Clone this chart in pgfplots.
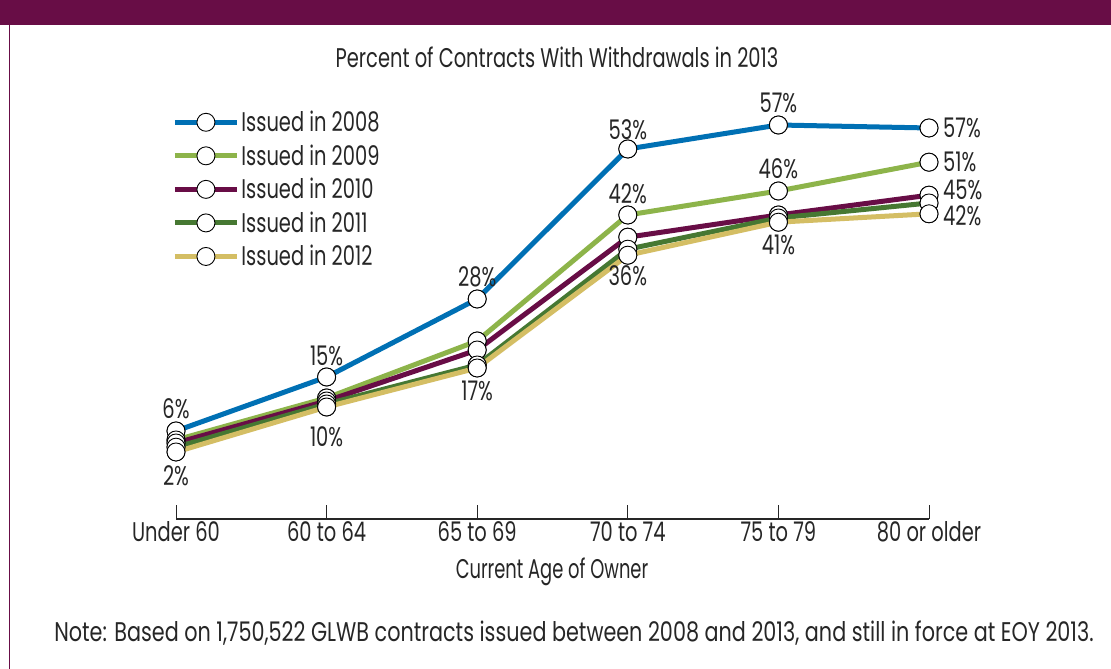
\documentclass[border=0pt]{standalone}
\usepackage{pgfplots}
\pgfplotsset{compat=1.18}
\usepackage{fontspec}
\setmainfont{Poppins}[FakeStretch=0.72]
\definecolor{bannerc}{RGB}{104,13,70}
\definecolor{cA}{RGB}{0,112,180}
\definecolor{cB}{RGB}{141,180,74}
\definecolor{cC}{RGB}{104,13,70}
\definecolor{cD}{RGB}{70,120,50}
\definecolor{cE}{RGB}{212,190,100}
\pgfplotstableread{
x y08 y09 y10 y11 y12
0 6    4.5  4    3.3  2.5
1 15   11.5 11   10.5 10
2 28   21   19.5 17   16.5
3 53   42   38.3 36.3 35.3
4 57   46   42   41.5 40.8
5 56.5 50.8 45.3 44   42.2
}\datatable
\newcommand{\fs}{\fontsize{27}{30}\selectfont}
\begin{document}
\begin{tikzpicture}
\useasboundingbox (0pt,0pt) rectangle (1111pt,669pt);
\fill[white] (0pt,0pt) rectangle (1111pt,669pt);
\fill[bannerc] (0pt,644pt) rectangle (1111pt,669pt);
\draw[bannerc, line width=1pt] (9.5pt,0pt) -- (9.5pt,644pt);
\node[font=\fs, text=black!85] at (557pt,612pt) {Percent of Contracts With Withdrawals in 2013};
\node[font=\fs, text=black!85, xscale=0.92] at (552pt,97pt) {Current Age of Owner};
\node[font=\fs, text=black!85, xscale=1.067] at (574pt,36pt) {Note: Based on 1,750,522 GLWB contracts issued between 2008 and 2013, and still in force at EOY 2013.};
\begin{axis}[
  at={(176pt,150pt)}, anchor=south west,
  scale only axis, width=753pt, height=412pt,
  xmin=0, xmax=5, ymin=-8.67, ymax=60,
  axis x line=bottom, axis y line=none,
  axis line style={-, line width=1.3pt, black!85},
  xtick={0,1,2,3,4,5},
  xticklabels={Under 60, 60 to 64, 65 to 69, 70 to 74, 75 to 79, 80 or older},
  tick align=inside, major tick length=14pt,
  xtick style={line width=0.9pt, black!85},
  xticklabel style={font=\fs, text=black!85, yshift=1pt},
  clip=false,
  legend style={at={(-0.005,0.995)}, anchor=north west, draw=none, fill=none,
    font=\fs, text=black!85, row sep=7.5pt, inner sep=0pt},
  legend cell align=left,
  legend image code/.code={\draw[mark repeat=2,mark phase=2,#1] plot coordinates {(0pt,0pt) (31pt,0pt) (62pt,0pt)};},
  every axis plot/.append style={line width=5pt},
  mk/.style={mark=*, mark size=9pt, mark options={fill=white, draw=black, line width=0.9pt}},
]
\addplot[cA, mk] table[x=x,y=y08] {\datatable};
\addplot[cB, mk] table[x=x,y=y09] {\datatable};
\addplot[cC, mk] table[x=x,y=y10] {\datatable};
\addplot[cD, mk] table[x=x,y=y11] {\datatable};
\addplot[cE, mk] table[x=x,y=y12] {\datatable};
\legend{Issued in 2008, Issued in 2009, Issued in 2010, Issued in 2011, Issued in 2012}
% marks on top
\addplot[draw=none, mk, forget plot] table[x=x,y=y08] {\datatable};
\addplot[draw=none, mk, forget plot] table[x=x,y=y09] {\datatable};
\addplot[draw=none, mk, forget plot] table[x=x,y=y10] {\datatable};
\addplot[draw=none, mk, forget plot] table[x=x,y=y11] {\datatable};
\addplot[draw=none, mk, forget plot] table[x=x,y=y12] {\datatable};
% labels
\begin{scope}[every node/.style={font=\fs, text=black!85}]
\node[anchor=south] at (axis cs:0,6) [yshift=9pt] {6\%};
\node[anchor=south] at (axis cs:1,15) [yshift=8pt] {15\%};
\node[anchor=south] at (axis cs:2,28) [yshift=8pt] {28\%};
\node[anchor=south] at (axis cs:3,53) [yshift=6pt] {53\%};
\node[anchor=south] at (axis cs:4,57) [yshift=9pt] {57\%};
\node[anchor=west, inner sep=0pt] at (axis cs:5,56.5) [xshift=14pt] {57\%};
\node[anchor=south] at (axis cs:3,42) [yshift=8pt] {42\%};
\node[anchor=south] at (axis cs:4,46) [yshift=9pt] {46\%};
\node[anchor=west, inner sep=0pt] at (axis cs:5,50.8) [xshift=14pt] {51\%};
\node[anchor=west, inner sep=0pt] at (axis cs:5,45.3) [xshift=14pt, yshift=5pt] {45\%};
\node[anchor=west, inner sep=0pt] at (axis cs:5,42.2) [xshift=14pt, yshift=-2pt] {42\%};
\node[anchor=north] at (axis cs:0,2.5) [yshift=-10pt] {2\%};
\node[anchor=north] at (axis cs:1,10) [yshift=-16pt] {10\%};
\node[anchor=north] at (axis cs:2,16.5) [yshift=-9pt] {17\%};
\node[anchor=north] at (axis cs:3,35.3) [yshift=-7pt] {36\%};
\node[anchor=north] at (axis cs:4,40.8) [yshift=-9pt] {41\%};
\end{scope}
\end{axis}
\end{tikzpicture}
\end{document}
